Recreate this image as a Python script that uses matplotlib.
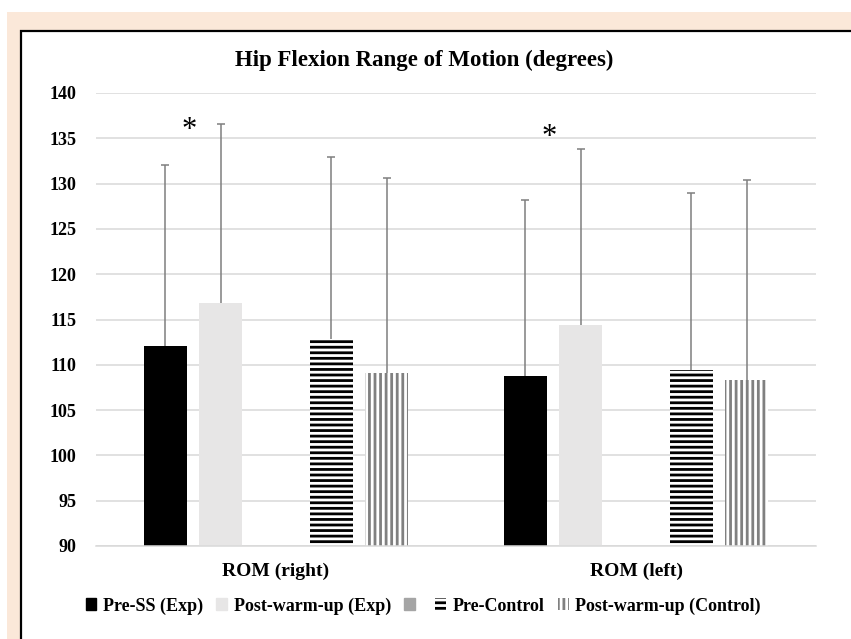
import numpy as np
import matplotlib.pyplot as plt
from matplotlib.patches import Rectangle, Patch

# Veriler
categories = ["ROM (right)", "ROM (left)"]
series = ["Pre-SS (Exp)", "Post-warm-up (Exp)", "", "Pre-Control", "Post-warm-up (Control)"]
pre_ss = [112.1, 108.8]
post_exp = [116.8, 114.4]
pre_ctrl = [112.9, 109.4]
post_ctrl = [109.1, 108.3]
sd_pre_ss = [19.9, 19.4]
sd_post_exp = [19.8, 19.4]
sd_pre_ctrl = [20.0, 19.6]
sd_post_ctrl = [21.5, 22.1]
yticks = [90, 95, 100, 105, 110, 115, 120, 125, 130, 135, 140]
star_y = [135.9, 135.1]   # anlamlilik isareti (*)

plt.rcParams['font.family'] = ['Liberation Serif', 'DejaVu Serif']
plt.rcParams['font.weight'] = 'bold'
plt.rcParams['hatch.linewidth'] = 2.0

fig = plt.figure(figsize=(8.51, 6.39), dpi=100)
W, H = 851, 639

# arka plan: seftali rengi cerceve ve siyah kenarli beyaz kutu
fig.patches.append(Rectangle((7 / W, 0), 1, 1 - 12 / H, transform=fig.transFigure,
                             facecolor='#FBE8D9', edgecolor='none', zorder=-10))
fig.patches.append(Rectangle((21 / W, -0.05), 1.1, 1.05 - 31 / H, transform=fig.transFigure,
                             facecolor='white', edgecolor='black', linewidth=1.6, zorder=-9))

ax = fig.add_axes([96 / W, 1 - 546 / H, 720 / W, 453 / H])
ax.set_facecolor('none')

x = np.arange(len(categories))
step = 0.154
width = 0.12
err_kw = dict(fmt='none', ecolor='#7F7F7F', elinewidth=1.1, capsize=3, capthick=1.1, zorder=3)

def draw(offset, vals, sds, **kw):
    pos = x + offset * step
    ax.bar(pos, np.array(vals) - 90, width, bottom=90, zorder=2, **kw)
    eb = ax.errorbar(pos, vals, yerr=[np.zeros(len(sds)), sds], **err_kw)
    # sadece ust kapak kalsin
    for cl in eb[1]:
        if np.allclose(cl.get_ydata(), vals):
            cl.set_visible(False)

draw(-2, pre_ss, sd_pre_ss, color='black')
draw(-1, post_exp, sd_post_exp, color='#E7E6E6')
draw(1, pre_ctrl, sd_pre_ctrl, facecolor='white', edgecolor='black', hatch='---', linewidth=0)
draw(2, post_ctrl, sd_post_ctrl, facecolor='white', edgecolor='#808080', hatch='|||', linewidth=0)

for i in range(len(categories)):
    ax.text(x[i] - 0.24, star_y[i], '*', fontsize=22, ha='center', va='center',
            fontweight='normal', zorder=4)

ax.set_xlim(-0.5, 1.5)
ax.set_ylim(90, 140)
ax.set_yticks(yticks)
ax.set_xticks(x)
ax.tick_params(axis='both', length=0, labelsize=13)
ax.tick_params(axis='x', pad=12)
ax.tick_params(axis='y', pad=14)
ax.set_xticklabels(categories, fontsize=14, fontweight='bold')
for lab in ax.get_yticklabels():
    lab.set_fontweight('bold')
ax.yaxis.grid(True, color='#D9D9D9', linewidth=1.1, zorder=0)
ax.set_axisbelow(True)
for sp in ['left', 'right', 'top']:
    ax.spines[sp].set_visible(False)
ax.spines['bottom'].set_color('#D9D9D9')
ax.spines['bottom'].set_linewidth(1.1)

fig.text(424 / W, 1 - 60 / H, "Hip Flexion Range of Motion (degrees)", ha='center', va='center',
         fontsize=16.5, fontweight='bold')

handles = [Patch(color='black'), Patch(color='#E7E6E6'), Patch(color='#A5A5A5'),
           Patch(facecolor='white', edgecolor='black', hatch='---', linewidth=0),
           Patch(facecolor='white', edgecolor='#808080', hatch='|||', linewidth=0)]
fig.legend(handles, series, loc='center', bbox_to_anchor=(423 / W, 1 - 606 / H), ncol=5,
           frameon=False, handlelength=0.6, handleheight=0.6, handletextpad=0.35,
           columnspacing=0.75, prop={'size': 13, 'weight': 'bold'})

fig.savefig("out.png", dpi=100)
